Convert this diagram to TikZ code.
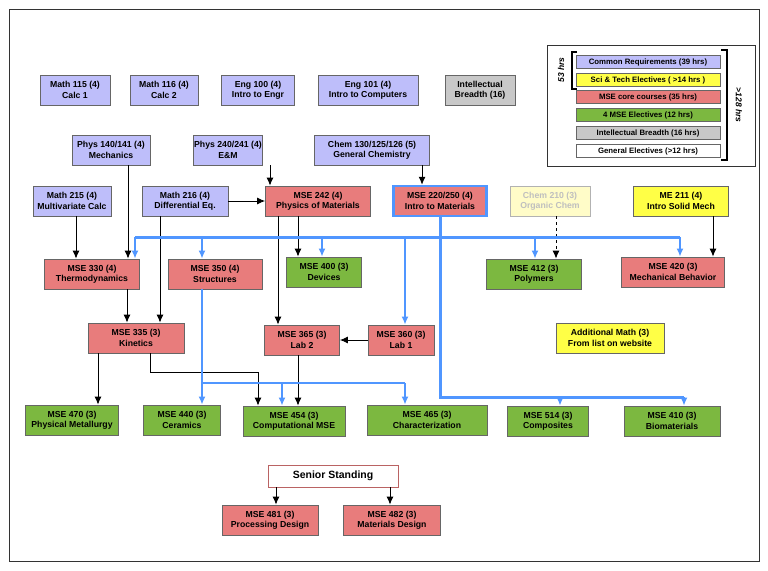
\documentclass[tikz,border=0pt]{standalone}
\usepackage{fontspec}
\setmainfont{Liberation Sans}
\usetikzlibrary{arrows.meta,positioning}
\definecolor{req}{RGB}{190,190,250}
\definecolor{core}{RGB}{232,124,124}
\definecolor{elec}{RGB}{124,184,64}
\definecolor{sci}{RGB}{255,255,70}
\definecolor{breadth}{RGB}{200,200,200}
\definecolor{pale}{RGB}{255,252,200}
\definecolor{bline}{RGB}{80,150,255}
\tikzset{
  box/.style={draw=black!60,line width=0.8pt,align=center,inner sep=1pt,font=\fontsize{8.7}{10.4}\selectfont\bfseries,minimum height=30pt},
  req/.style={box,fill=req},
  core/.style={box,fill=core},
  elec/.style={box,fill=elec},
  sci/.style={box,fill=sci},
  gen/.style={box,fill=breadth},
  leg/.style={box,minimum width=144pt,minimum height=13.5pt,font=\fontsize{7.8}{8.4}\selectfont\bfseries},
  pre/.style={-{Latex[length=8pt,width=7pt]},black,line width=0.9pt},
  blu/.style={bline,line width=1.5pt,-{Latex[length=8pt,width=7pt]}},
}
\begin{document}
\begin{tikzpicture}[x=1pt,y=-1pt]
\useasboundingbox (0,0) rectangle (768,570);
\draw[black!80] (9,9) rectangle (759,561);
% first row
\node[req,minimum width=70pt] (m115) at (75,90) {Math 115 (4)\\Calc 1};
\node[req,minimum width=68pt] (m116) at (164,90) {Math 116 (4)\\Calc 2};
\node[req,minimum width=73pt] (e100) at (258,90) {Eng 100 (4)\\Intro to Engr};
\node[req,minimum width=100pt] (e101) at (368,90) {Eng 101 (4)\\Intro to Computers};
\node[gen,minimum width=70pt] (ib) at (480,90) {Intellectual\\Breadth (16)};
% second row
\node[req,minimum width=78pt] (p140) at (111,150) {Phys 140/141 (4)\\Mechanics};
\node[req,minimum width=69pt] (p240) at (228,150) {Phys 240/241 (4)\\E\&M};
\node[req,minimum width=115pt] (c130) at (372,150) {Chem 130/125/126 (5)\\General Chemistry};
% third row
\node[req,minimum width=78pt] (m215) at (72,201) {Math 215 (4)\\Multivariate Calc};
\node[req,minimum width=86pt] (m216) at (185,201) {Math 216 (4)\\Differential Eq.};
\node[core,minimum width=105pt] (s242) at (318,201) {MSE 242 (4)\\Physics of Materials};
\node[core,draw=bline,line width=2.5pt,minimum width=93pt] (s220) at (440,201) {MSE 220/250 (4)\\Intro to Materials};
\node[box,fill=pale,text=black!25,draw=black!30,minimum width=80pt] (c210) at (550,201) {Chem 210 (3)\\Organic Chem};
\node[sci,minimum width=95pt] (me211) at (681,201) {ME 211 (4)\\Intro Solid Mech};
% fourth row
\node[core,minimum width=95pt] (s330) at (92,274) {MSE 330 (4)\\Thermodynamics};
\node[core,minimum width=94pt] (s350) at (215,274) {MSE 350 (4)\\Structures};
\node[elec,minimum width=75pt] (s400) at (324,272) {MSE 400 (3)\\Devices};
\node[elec,minimum width=95pt] (s412) at (534,274) {MSE 412 (3)\\Polymers};
\node[core,minimum width=103pt] (s420) at (673,272) {MSE 420 (3)\\Mechanical Behavior};
% fifth row
\node[core,minimum width=96pt] (s335) at (136,338) {MSE 335 (3)\\Kinetics};
\node[core,minimum width=75pt] (s365) at (302,340) {MSE 365 (3)\\Lab 2};
\node[core,minimum width=66pt] (s360) at (401,340) {MSE 360 (3)\\Lab 1};
\node[sci,minimum width=108pt] (am) at (610,338) {Additional Math (3)\\From list on website};
% sixth row
\node[elec,minimum width=93pt] (s470) at (72,420) {MSE 470 (3)\\Physical Metallurgy};
\node[elec,minimum width=77pt] (s440) at (182,420) {MSE 440 (3)\\Ceramics};
\node[elec,minimum width=102pt] (s454) at (294,421) {MSE 454 (3)\\Computational MSE};
\node[elec,minimum width=120pt] (s465) at (427,420) {MSE 465 (3)\\Characterization};
\node[elec,minimum width=81pt] (s514) at (548,421) {MSE 514 (3)\\Composites};
\node[elec,minimum width=96pt] (s410) at (672,421) {MSE 410 (3)\\Biomaterials};
% senior
\node[box,draw=core!80!black,fill=white,minimum width=130pt,minimum height=22pt,font=\fontsize{10.5}{12}\selectfont\bfseries] (sen) at (333,476) {Senior Standing};
\node[core,minimum width=96pt] (s481) at (270,520) {MSE 481 (3)\\Processing Design};
\node[core,minimum width=97pt] (s482) at (392,520) {MSE 482 (3)\\Materials Design};
% legend
\draw[black!80,line width=1pt] (547,45) rectangle (755,166);
\node[leg,fill=req] (l1) at (648,62) {Common Requirements (39 hrs)};
\node[leg,fill=sci] (l2) at (648,80) {Sci \& Tech Electives ( >14 hrs )};
\node[leg,fill=core] (l3) at (648,97) {MSE core courses (35 hrs)};
\node[leg,fill=elec] (l4) at (648,115) {4 MSE Electives (12 hrs)};
\node[leg,fill=breadth] (l5) at (648,133) {Intellectual Breadth (16 hrs)};
\node[leg,fill=white] (l6) at (648,151) {General Electives (>12 hrs)};
\draw[line width=1.8pt] (577,52) -- (572,52) -- (572,89) -- (577,89);
\draw[line width=1.8pt] (721,50) -- (727,50) -- (727,160) -- (721,160);
\node[rotate=90,font=\fontsize{8.5}{9}\selectfont\bfseries\itshape] (h53) at (561,70) {53 hrs};
\node[rotate=-90,font=\fontsize{8.5}{9}\selectfont\bfseries\itshape] (h128) at (739,105) {>128 hrs};
% black prerequisites
\draw[pre] (m216.east) -- (s242.west);
\draw[pre] (p240.south -| 270,0) -- (s242.north -| 270,0);
\draw[pre] (c130.south -| 422,0) -- (s220.north -| 422,0);
\draw[pre] (m215.south -| 76,0) -- (s330.north -| 76,0);
\draw[pre] (p140.south -| 128,0) -- (s330.north -| 128,0);
\draw[pre] (m216.south -| 160,0) -- (s335.north -| 160,0);
\draw[pre] (s242.south -| 298,0) -- (s400.north -| 298,0);
\draw[pre] (s242.south -| 278,0) -- (s365.north -| 278,0);
\draw[pre,dashed] (c210.south -| 556,0) -- (s412.north -| 556,0);
\draw[pre] (me211.south -| 713,0) -- (s420.north -| 713,0);
\draw[pre] (s330.south -| 127,0) -- (s335.north -| 127,0);
\draw[pre] (s360.west) -- (s365.east);
\draw[pre] (s335.south -| 98,0) -- (s470.north -| 98,0);
\draw[pre] (s335.south -| 150,0) |- (258,372) -- (s454.north -| 258,0);
\draw[pre] (s365.south -| 298,0) -- (s454.north -| 298,0);
\draw[pre] (sen.south -| 276,0) -- (s481.north -| 276,0);
\draw[pre] (sen.south -| 390,0) -- (s482.north -| 390,0);
% blue bar from intro to materials
\coordinate (bl) at (135,237);
\coordinate (br) at (680,237);
\draw[bline,line width=3pt] (bl) -- (br);
\draw[bline,line width=3pt] (s220.south) -- (440,397) -- (684,397);
\draw[blu] (bl) -- (s330.north -| 135,0);
\draw[blu] (202,237) -- (s350.north -| 202,0);
\draw[blu] (322,237) -- (s400.north -| 322,0);
\draw[blu] (405,237) -- (s360.north -| 405,0);
\draw[blu] (535,237) -- (s412.north -| 535,0);
\draw[blu] (br) -- (s420.north -| 680,0);
\draw[blu] (560,397) -- (s514.north -| 560,0);
\draw[blu] (684,397) -- (s410.north -| 684,0);
% blue from structures
\draw[bline,line width=1.5pt] (s350.south -| 202,0) -- (202,383) -- (405,383);
\draw[blu] (202,383) -- (s440.north -| 202,0);
\draw[blu] (282,383) -- (s454.north -| 282,0);
\draw[blu] (405,383) -- (s465.north -| 405,0);
\end{tikzpicture}
\end{document}
